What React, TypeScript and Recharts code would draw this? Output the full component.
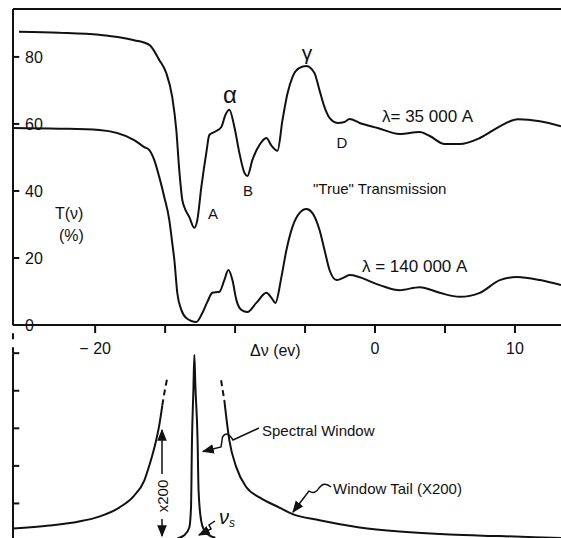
import React from 'react';
import { LineChart, Line, XAxis, YAxis, ReferenceLine } from 'recharts';

const FONT = '"Liberation Sans", Arial, sans-serif';
const INK = '#111';

// frame range of the energy axis, Δν in eV
const X_MIN = -25.87;
const X_MAX = 13.29;
const TICK_LEN = 0.45; // inward tick length, in eV
const xTicks = [-20, -15, -10, -5, 0, 5, 10];
const xLabels: Record<string, string> = { '-20': '− 20', '0': '0', '10': '10' };
const yTicks = [0, 20, 40, 60, 80];
const Y_TOP = 94.3;

// lower panel: window units, one per tick
const windowTicks = [1, 2, 3, 4, 5];
const W_TOP = 5.75;

// λ = 35 000 A
const shortDv = [
  -25.44, -22.58, -19.71, -18.28, -17.21, -16.13, -15.42, -14.92, -14.49, -14.2, -13.99, -13.77,
  -13.63, -13.27, -12.91, -12.7, -12.41, -12.06, -11.84, -11.48, -10.98, -10.69, -10.41, -10.05,
  -9.69, -9.33, -9.12, -8.76, -8.26, -7.76, -7.4, -6.97, -6.61, -6.26, -5.9, -5.4, -4.9, -4.33,
  -3.97, -3.61, -3.25, -2.68, -2.18, -1.82, -1.1, 0.19, 1.76, 3.19, 3.91, 4.98, 6.06, 7.49, 8.92,
  10.21, 11.78, 13.29,
];
const shortT = [
  87.5, 87.2, 86.6, 85.9, 85, 83.6, 79.1, 75.2, 68, 58.2, 46.3, 37.3,
  35.2, 32.2, 29, 31.3, 41.2, 51.3, 56.7, 57.6, 59.1, 62.7, 64.2, 59.1,
  51.3, 45.4, 44.5, 49.3, 53.7, 55.8, 53.5, 52, 61.2, 69, 74, 76.7, 77.3, 75.2,
  70.1, 65, 61.8, 60.3, 60.6, 61.5, 60.3, 58.8, 57, 57.6, 56.4, 54, 54, 55.8, 59.3,
  61.4, 60.8, 59.3,
];

// λ = 140 000 A
const longDv = [
  -25.87, -22.58, -19.71, -17.21, -16.49, -16.13, -15.78, -15.42, -15.06, -14.7, -14.49, -14.34,
  -14.13, -13.84, -13.49, -12.77, -12.34, -11.98, -11.62, -11.12, -10.77, -10.48, -10.19, -9.91,
  -9.55, -9.12, -8.48, -7.76, -7.4, -7.12, -6.69, -6.33, -5.9, -5.4, -4.9, -4.47, -3.97, -3.61,
  -3.25, -2.75, -2.32, -1.82, 0.33, 1.76, 3.19, 4.62, 6.06, 7.49, 8.92, 10.14, 11.78, 13.29,
];
const longT = [
  58.8, 58.6, 58.2, 55.2, 53.1, 52.2, 49.3, 44.2, 38.2, 31.3, 24.5, 19.4,
  9.6, 4.5, 2.1, 0.9, 3.6, 6.9, 9.6, 9.9, 13.4, 16.4, 13.4, 7.5,
  4.5, 3.9, 6.6, 9.6, 8.1, 6.6, 14.3, 22.4, 29.3, 33.4, 34.6, 33.4, 28.4, 22.4,
  16.4, 13.4, 14, 14.9, 11.9, 10.4, 11.3, 9.6, 8.4, 9.6, 13.4, 14.3, 13.4, 11.9,
];

// spectral window
const windowDv = [-14.13, -13.63, -13.27, -13.15, -13.08, -12.98, -12.91, -12.84, -12.68, -12.61, -12.43, -12.2, -11.84, -11.41];
const windowI = [0.07, 0.15, 0.36, 0.89, 2.68, 4.01, 4.95, 4.15, 2.68, 1.35, 0.55, 0.28, 0.15, 0.09];

// window tails (x200)
const tailLeftDv = [-25.87, -23.29, -21.15, -19.71, -18.28, -17.21, -16.49, -16.13, -15.78, -15.42, -15.2];
const tailLeftI = [0.33, 0.41, 0.52, 0.65, 0.89, 1.21, 1.61, 2.01, 2.47, 3.08, 3.61];
const tailLeftDashDv = [-15.2, -15.06, -14.85];
const tailLeftDashI = [3.61, 3.93, 4.33];
const tailRightDashDv = [-11.0, -10.77];
const tailRightDashI = [4.28, 3.75];
const tailRightDv = [-10.77, -10.41, -9.91, -9.19, -8.26, -6.83, -5.97, -3.97, -1.1, 1.76, 5.34, 8.92, 13.29];
const tailRightI = [3.75, 2.68, 1.96, 1.43, 1.16, 0.89, 0.73, 0.55, 0.36, 0.25, 0.17, 0.13, 0.08];

const zip = (xs: number[], ys: number[]) => xs.map((x, i) => ({ x, y: ys[i] }));

const curve = (name: string, xs: number[], ys: number[], dash?: string) => (
  <Line
    key={name}
    name={name}
    data={zip(xs, ys)}
    dataKey="y"
    type="monotone"
    stroke={INK}
    strokeWidth={2}
    strokeDasharray={dash}
    dot={false}
    activeDot={false}
    isAnimationActive={false}
  />
);

const innerTick = (v: number) => (
  <ReferenceLine
    key={'t' + v}
    segment={[{ x: X_MIN, y: v }, { x: X_MIN + TICK_LEN, y: v }]}
    stroke={INK}
    strokeWidth={2}
    ifOverflow="visible"
  />
);

const txt = { fill: INK, fontFamily: FONT };

const Notes = () => (
  <svg width={561} height={538} style={{ position: 'absolute', left: 0, top: 0, pointerEvents: 'none' }}>
    <defs>
      <marker id="ah" viewBox="0 0 10 10" refX="9" refY="5" markerWidth="8" markerHeight="8" orient="auto-start-reverse">
        <path d="M0,1 L10,5 L0,9 z" fill={INK} />
      </marker>
    </defs>
    <g {...txt} dominantBaseline="central">
      <text x={230} y={94} fontSize={24} textAnchor="middle">α</text>
      <text x={307} y={52} fontSize={21} textAnchor="middle">γ</text>
      <text x={213} y={213} fontSize={15} textAnchor="middle">A</text>
      <text x={248} y={190} fontSize={15} textAnchor="middle">B</text>
      <text x={342} y={142} fontSize={15} textAnchor="middle">D</text>
      <text x={382} y={116} fontSize={17}>λ= 35 000 A</text>
      <text x={313} y={188} fontSize={15}>"True" Transmission</text>
      <text x={362} y={266} fontSize={17}>λ = 140 000 A</text>
      <text x={55} y={213} fontSize={16}>T(ν)</text>
      <text x={59} y={235} fontSize={16}>(%)</text>
      <text x={250} y={350} fontSize={16}>Δν (ev)</text>
      <text x={262} y={430} fontSize={15}>Spectral Window</text>
      <text x={333} y={488} fontSize={15}>Window Tail (X200)</text>
      <text x={162} y={496} fontSize={15} textAnchor="middle" transform="rotate(-90 162 496)">x200</text>
      <text x={219} y={517} fontSize={20} fontStyle="italic">ν<tspan fontSize={12} dy={6}>s</tspan></text>
    </g>
    <g fill="none" stroke={INK} strokeWidth={1.5}>
      <path d="M259,428 L233,440 Q227,430 222.5,437 L221,447 L203,451.5" markerEnd="url(#ah)" />
      <path d="M331,487 Q324,481 319,488 Q315,495 309,491 L293,512" markerEnd="url(#ah)" />
      <path d="M162,474 L162,430" markerEnd="url(#ah)" />
      <path d="M162,519 L162,536" markerEnd="url(#ah)" />
      <path d="M215,521 L209,525 L211,529 L199,535" markerEnd="url(#ah)" />
    </g>
  </svg>
);

export default function App() {
  return (
    <div
      style={{
        position: 'absolute',
        left: 0,
        top: 0,
        width: 561,
        height: 538,
        overflow: 'hidden',
        background: '#fff',
        fontFamily: FONT,
      }}
    >
      <div style={{ position: 'absolute', left: 0, top: 0 }}>
        <LineChart width={561} height={365} margin={{ top: 9, right: 0, left: 13, bottom: 0 }}>
          <XAxis
            type="number"
            dataKey="x"
            domain={[X_MIN, X_MAX]}
            ticks={xTicks}
            allowDataOverflow
            height={40}
            stroke={INK}
            strokeWidth={2}
            tickSize={8}
            tickMargin={10}
            tickFormatter={(v: number) => xLabels[String(v)] ?? ''}
            tick={{ fill: INK, fontSize: 16, fontFamily: FONT }}
          />
          <YAxis
            type="number"
            domain={[0, Y_TOP]}
            ticks={yTicks}
            allowDataOverflow
            width={1}
            mirror
            stroke={INK}
            strokeWidth={2}
            tickLine={false}
            tickSize={6}
            tickMargin={6}
            tick={{ fill: INK, fontSize: 16, fontFamily: FONT }}
          />
          <ReferenceLine y={Y_TOP} stroke={INK} strokeWidth={2} ifOverflow="visible" />
          {yTicks.map(innerTick)}
          {curve('short', shortDv, shortT)}
          {curve('long', longDv, longT)}
        </LineChart>
      </div>
      <div style={{ position: 'absolute', left: 0, top: 325 }}>
        <LineChart width={561} height={216} margin={{ top: 0, right: 0, left: 13, bottom: 0 }}>
          <XAxis type="number" dataKey="x" domain={[X_MIN, X_MAX]} allowDataOverflow hide />
          <YAxis type="number" domain={[0, W_TOP]} ticks={windowTicks} allowDataOverflow hide />
          <ReferenceLine
            segment={[{ x: X_MIN, y: 0 }, { x: X_MIN, y: 5 }]}
            stroke={INK}
            strokeWidth={2}
            ifOverflow="visible"
          />
          <ReferenceLine
            segment={[{ x: X_MIN, y: 5 }, { x: X_MIN, y: W_TOP }]}
            stroke={INK}
            strokeWidth={2}
            strokeDasharray="6 8"
            ifOverflow="visible"
          />
          {windowTicks.map(innerTick)}
          {curve('tailLeft', tailLeftDv, tailLeftI)}
          {curve('tailLeftDash', tailLeftDashDv, tailLeftDashI, '6 4')}
          {curve('tailRightDash', tailRightDashDv, tailRightDashI, '6 4')}
          {curve('tailRight', tailRightDv, tailRightI)}
          {curve('window', windowDv, windowI)}
        </LineChart>
      </div>
      <Notes />
    </div>
  );
}
